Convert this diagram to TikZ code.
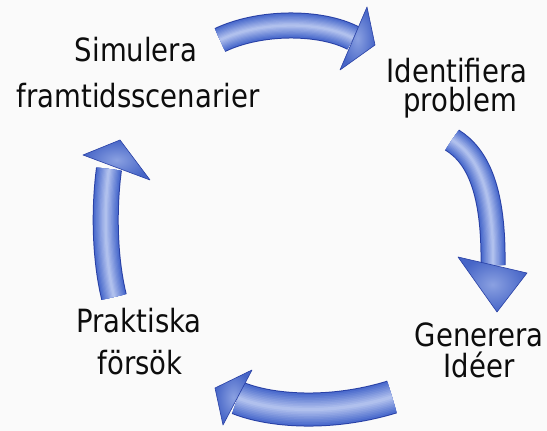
\documentclass[tikz,border=0pt]{standalone}
\usepackage{fontspec}
\setmainfont{DejaVu Sans}[FakeStretch=0.86]
\definecolor{arrowdark}{RGB}{40,64,165}
\definecolor{arrowmid}{RGB}{76,108,205}
\definecolor{arrowlight}{RGB}{215,225,250}
\definecolor{paper}{RGB}{250,250,250}
\tikzset{
  steplabel/.style={font=\fontsize{32}{38}\selectfont, text=black!95, anchor=base, inner sep=0pt},
  arrowhead/.style={draw=arrowdark, line width=0.6pt, inner color=arrowmid!55!arrowlight, outer color=arrowmid!85!arrowdark, line join=round},
}
\begin{document}
\begin{tikzpicture}[x=1pt,y=1pt]
        \fill[paper] (0,0) rectangle (547,431);
        \useasboundingbox (0,0) rectangle (547,431);
        % labels
        \node[steplabel] (sim1) at (136,369) {Simulera};
        \node[steplabel] (sim2) at (138,323) {framtidsscenarier};
        \node[steplabel] (ide1) at (457,348) {Identifiera};
        \node[steplabel] (ide2) at (460,319) {problem};
        \node[steplabel] (gen1) at (479,84) {Generera};
        \node[steplabel] (gen2) at (479,53) {Idéer};
        \node[steplabel] (pra1) at (139,98) {Praktiska};
        \node[steplabel] (pra2) at (140,56) {försök};
        % top arrow
        \draw[line width=26pt, arrowdark] (220,391) .. controls (260,410) and (320,410) .. (353,393);
        \foreach \i [evaluate=\i as \m using int(8*\i)] in {0,...,9}
          \draw[line width=(1-\i/10)*24pt, arrowlight!\m!arrowmid] (220,391) .. controls (260,410) and (320,410) .. (353,393);
        \shadedraw[arrowhead] (367,424) -- (375,386) -- (340,361) -- cycle;
        % right arrow
        \draw[line width=25pt, arrowdark] (452,291) .. controls (478,275) and (494,240) .. (493,166);
        \foreach \i [evaluate=\i as \m using int(8*\i)] in {0,...,9}
          \draw[line width=(1-\i/10)*23pt, arrowlight!\m!arrowmid] (452,291) .. controls (478,275) and (494,240) .. (493,166);
        \shadedraw[arrowhead] (458,174) -- (497,119) -- (527,158) -- cycle;
        % bottom arrow
        \draw[line width=34pt, arrowdark] (392,34) .. controls (330,15) and (270,20) .. (238,33);
        \foreach \i [evaluate=\i as \m using int(8*\i)] in {0,...,9}
          \draw[line width=(1-\i/10)*32pt, arrowlight!\m!arrowmid] (392,34) .. controls (330,15) and (270,20) .. (238,33);
        \shadedraw[arrowhead] (252,61) -- (215,43) -- (223,6) -- cycle;
        % left arrow
        \draw[line width=26pt, arrowdark] (114,134) .. controls (104,175) and (104,225) .. (109,262);
        \foreach \i [evaluate=\i as \m using int(8*\i)] in {0,...,9}
          \draw[line width=(1-\i/10)*24pt, arrowlight!\m!arrowmid] (114,134) .. controls (104,175) and (104,225) .. (109,262);
        \shadedraw[arrowhead] (150,251) -- (120,291) -- (83,276) -- cycle;
\end{tikzpicture}
\end{document}
